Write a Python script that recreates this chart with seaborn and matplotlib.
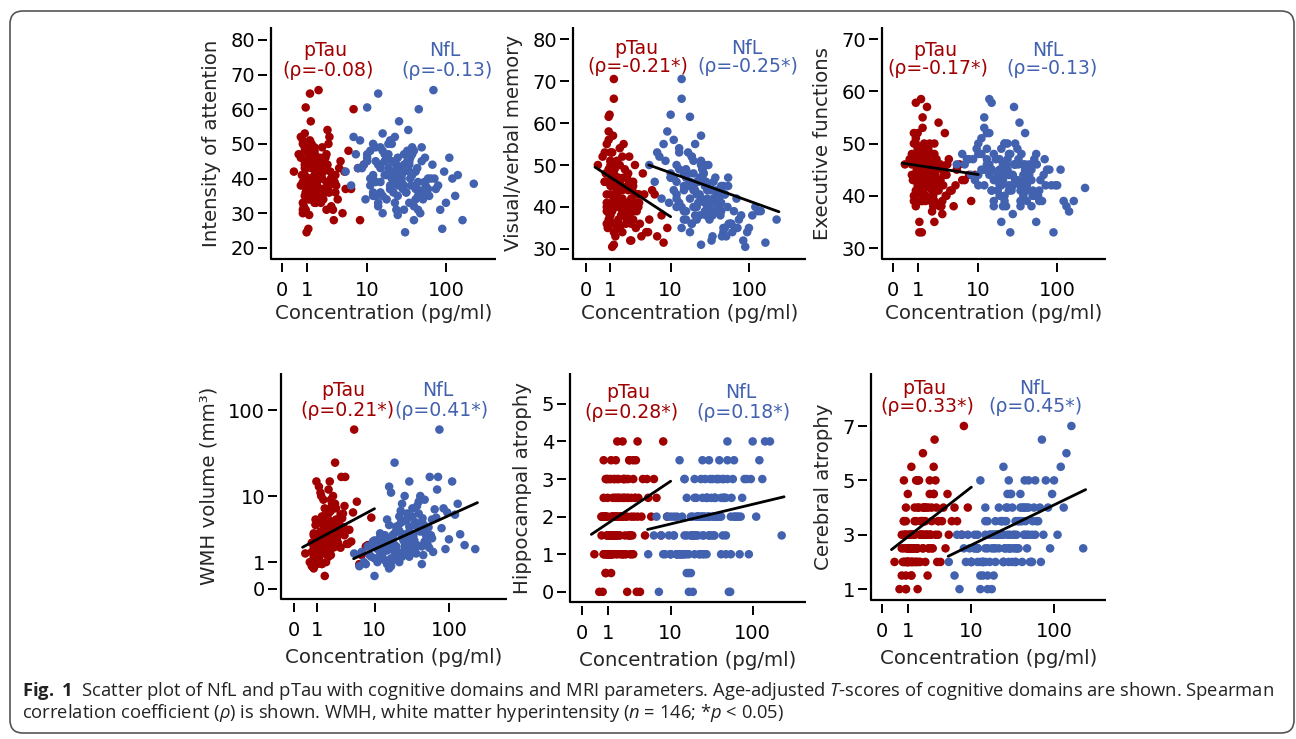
import numpy as np
import matplotlib
matplotlib.use("Agg")
import matplotlib.pyplot as plt
import seaborn as sns
from matplotlib.patches import FancyBboxPatch

W, H = 1296, 739

# concentrations per patient (pg/ml), n = 146
ptau = [0.4, 0.7, 0.8, 0.9, 1.0, 0.6, 1.1, 0.8, 0.9, 1.2,
        1.0, 0.7, 1.3, 0.9, 1.1, 0.8, 1.0, 1.4, 0.9, 1.2,
        0.75, 1.1, 1.6, 0.85, 1.3, 0.95, 1.8, 1.5, 0.8, 1.2,
        1.6, 0.9, 2.1, 1.0, 0.7, 1.3, 1.15, 0.9, 2.0, 1.0,
        1.2, 0.85, 3.0, 1.1, 0.95, 1.4, 2.4, 0.8, 1.25, 2.3,
        1.0, 1.3, 1.6, 0.9, 2.8, 1.2, 2.2, 1.5, 1.1, 2.5,
        1.4, 1.7, 0.8, 2.0, 3.3, 1.9, 1.0, 2.8, 1.6, 1.2,
        2.3, 1.5, 1.1, 3.2, 1.4, 1.8, 0.9, 2.1, 1.3, 2.6,
        1.7, 1.2, 2.4, 1.0, 1.5, 3.5, 1.9, 1.3, 2.0, 1.6,
        1.1, 2.7, 1.4, 4.0, 1.8, 1.2, 2.2, 0.95, 1.5, 6.0,
        1.3, 2.0, 1.6, 2.5, 1.2, 3.0, 1.8, 2.2, 1.5, 3.5,
        2.8, 1.4, 4.5, 2.0, 1.7, 2.4, 3.8, 1.9, 2.6, 1.1,
        3.2, 2.1, 5.5, 1.6, 2.9, 5.0, 4.2, 1.8, 3.0, 7.5,
        2.5, 1.3, 3.6, 2.0, 2.7, 9.0, 1.5, 2.2, 4.8, 3.4,
        1.9, 2.6, 6.5, 2.1, 3.1, 8.0]

nfl = [5.0, 6.0, 8, 10, 12, 7, 11, 14, 9, 13,
       15, 6.5, 12, 18, 10, 16, 8.5, 20, 11, 14,
       17, 9.5, 13, 22, 12, 15, 19, 10, 24, 14,
       11, 16, 21, 13, 18, 7.5, 25, 15, 12, 20,
       17, 14, 28, 16, 10, 22, 19, 13, 26, 15,
       12, 18, 25, 15, 30, 20, 22, 35, 17, 28,
       24, 32, 19, 26, 40, 21, 29, 23, 36, 18,
       27, 33, 20, 45, 25, 30, 16, 38, 22, 34,
       28, 42, 24, 31, 19, 50, 26, 35, 23, 29,
       37, 21, 48, 27, 70, 25, 55, 30, 20, 44,
       25, 35, 45, 30, 60, 40, 28, 55, 50, 38,
       32, 33, 48, 42, 80, 36, 52, 65, 30, 90,
       45, 58, 40, 100, 35, 75, 50, 62, 120, 44,
       85, 38, 56, 140, 48, 68, 220, 42, 95, 54,
       110, 60, 46, 130, 72, 160]

# outcomes per patient
attention = [42, 38, 51, 45, 36, 47, 40, 33, 44, 49,
             39, 52, 35, 41, 46, 30, 43, 37, 48, 64.5,
             41, 34, 45, 39, 50, 36, 42, 47, 31, 44,
             38, 53, 40, 35, 46, 43, 29.5, 49, 41, 37,
             45, 32, 40, 48, 60.5, 36, 43, 39, 56.5, 44,
             40, 46, 35, 43, 38, 51, 42, 33, 47, 39,
             44, 36, 50, 41, 28, 45, 37, 52, 40, 34,
             43, 48, 38, 31, 46, 42, 35, 49, 39, 54,
             41, 37, 44, 24.5, 47, 36, 40, 45, 33, 42,
             38, 50, 35, 43, 65.5, 39, 46, 31, 41, 37,
             38, 44, 35, 47, 40, 32, 43, 37, 49, 41,
             36, 45, 30, 42, 38, 46, 34, 40, 44, 25.5,
             39, 36, 48, 33, 42, 37, 45, 35, 40, 43,
             31, 47, 38, 41, 36, 44, 38.5, 34, 42, 39,
             46, 37, 60, 35, 40, 28]

memory = [50, 46, 55, 48, 43, 52, 47, 40, 58, 49,
          45, 53, 42, 61.5, 47, 39, 51, 44, 56, 70.5,
          48, 41, 54, 46, 50, 37, 52, 47, 43, 65.8,
          44, 49, 38, 53, 46, 42, 57, 48, 40, 51,
          45, 35, 50, 47, 62, 43, 52, 41, 49, 44,
          46, 42, 50, 39, 45, 48, 37, 44, 53, 41,
          47, 40, 36, 49, 43, 55, 38, 46, 42, 34,
          48, 41, 45, 39, 51, 44, 37, 47, 40, 32,
          45, 42, 38, 50, 36, 43, 47, 33, 41, 46,
          39, 44, 35, 48, 42, 31, 45, 38, 40, 43,
          42, 38, 45, 40, 36, 43, 39, 47, 35, 41,
          37, 44, 34, 40, 38, 46, 33, 39, 42, 30.5,
          41, 36, 44, 35, 39, 37, 43, 34, 40, 38,
          32, 42, 36, 39, 45, 35, 37, 41, 34, 40,
          38, 36, 33, 39, 35, 31.5]

executive = [46, 48, 44, 50, 42, 47, 45, 52, 43, 49,
             41, 46, 55, 44, 48, 39, 47, 45, 51, 58.5,
             43, 49, 46, 40, 53, 45, 47, 42, 50, 44,
             48, 38, 46, 52, 44, 47, 41, 57.8, 45, 49,
             43, 46, 36.5, 48, 44, 50, 42, 47, 33, 45,
             45, 43, 48, 41, 46, 44, 50, 39, 47, 42,
             45, 49, 40, 44, 52, 43, 46, 38, 48, 41,
             44, 47, 35, 45, 42, 50, 43, 46, 39, 54,
             44, 41, 47, 43, 45, 40, 48, 42, 46, 57,
             43, 38, 45, 41, 47, 44, 35, 46, 42, 43,
             44, 41, 46, 43, 39, 45, 42, 48, 40, 44,
             43, 46, 38, 42, 45, 41, 47, 39, 43, 33,
             44, 40, 46, 42, 38, 45, 41, 43, 39, 44,
             42, 40, 46, 37, 43, 44, 41.5, 39, 42, 40,
             45, 41, 43, 38, 42, 39]

wmh = [1.5, 0.8, 2.0, 1.2, 2.5, 1.0, 1.8, 3.0, 1.3, 2.2,
       0.9, 1.6, 2.8, 1.1, 2.0, 0.7, 1.4, 3.5, 1.2, 1.9,
       0.8, 2.4, 1.5, 1.0, 3.2, 1.7, 2.1, 0.4, 1.3, 2.6,
       1.0, 1.8, 4.0, 1.2, 2.3, 0.9, 1.6, 5.0, 1.4, 2.0,
       11, 1.1, 1.9, 13, 2.5, 1.5, 25, 1.7, 10, 2.2,
       2.0, 3.0, 1.5, 2.5, 4.0, 1.8, 3.5, 2.2, 1.2, 5.0,
       2.8, 1.6, 3.2, 2.0, 6.0, 1.4, 2.6, 4.5, 1.9, 3.0,
       2.3, 7.0, 1.7, 3.8, 2.5, 1.3, 4.2, 2.1, 5.5, 2.9,
       1.8, 3.4, 8.0, 2.4, 1.6, 3.0, 4.8, 2.0, 6.5, 2.7,
       1.5, 3.6, 9.0, 2.2, 12, 3.1, 1.9, 15, 4.0, 0.9,
       3.0, 2.5, 4.5, 2.0, 5.0, 3.5, 6.0, 2.8, 4.0, 7.5,
       3.2, 5.5, 2.4, 9.0, 3.8, 4.6, 2.2, 6.8, 3.4, 1.8,
       5.2, 3.0, 8.5, 2.6, 4.2, 60, 3.6, 1.6, 5.8, 2.0,
       7.0, 4.4, 17, 3.1, 2.3, 5.3, 1.8, 10, 6.2, 3.9,
       15, 2.7, 1.4, 8.0, 17, 2.1]

hippocampal = [1, 1.5, 1, 2, 1, 0, 1.5, 1, 2, 1,
               1.5, 2, 1, 0.5, 1, 2.5, 1, 1.5, 2, 1,
               0, 1.5, 1, 2, 1, 3, 1.5, 1, 2, 1,
               1.5, 1, 2.5, 1, 2, 1.5, 1, 3, 1, 1.5,
               0.5, 2, 1, 1.5, 1, 2, 0, 3.5, 1.5, 1,
               2, 1.5, 2.5, 1, 2, 3, 1.5, 2, 1, 2.5,
               3, 1.5, 2, 1, 3.5, 2, 2.5, 1, 2, 1.5,
               3, 2, 1, 2.5, 1.5, 2, 0.5, 3, 2, 1.5,
               2.5, 1, 2, 3, 1.5, 4, 2, 2.5, 1, 2,
               3, 1.5, 2.5, 2, 1, 3.5, 2, 1.5, 2.5, 3,
               2, 2.5, 3, 1.5, 2, 3, 2.5, 1, 3.5, 2,
               2.5, 3, 1.5, 2, 3, 2.5, 0, 2, 3.5, 1,
               2.5, 3, 2, 4, 1.5, 2.5, 3, 2, 3.5, 1.5,
               3, 2, 2.5, 4, 1, 2, 1.5, 2.5, 3, 0,
               2, 3.5, 2.5, 3, 2, 4]

cerebral = [2, 1.5, 2.5, 2, 3, 1, 2.5, 2, 3, 1.5,
            2, 3, 2.5, 1, 2, 3.5, 2, 2.5, 3, 1.5,
            2, 2.5, 1, 3, 2, 2.5, 3, 2, 3.5, 2,
            2.5, 1.5, 3, 2, 2.5, 3, 2, 4, 2.5, 2,
            3, 2, 4.5, 2.5, 2, 3, 1.5, 5, 2.5, 3,
            2.5, 3, 2, 3.5, 2.5, 3, 4, 2, 3, 2.5,
            3.5, 2, 3, 2.5, 4, 3, 2, 3.5, 2.5, 3,
            4, 2.5, 3, 5, 2, 3, 1, 3.5, 2.5, 3,
            4, 2, 3, 4.5, 2.5, 3, 3.5, 2, 3, 5,
            2.5, 3, 4, 3.5, 2, 5.5, 3, 2.5, 3.5, 4,
            3, 3.5, 4, 2.5, 3, 4.5, 3, 2, 5, 3.5,
            4, 3, 2.5, 4, 5, 3, 2, 3.5, 4.5, 2.5,
            3, 4, 3.5, 5, 2.5, 3, 4, 3.5, 5.5, 3,
            4, 2.5, 3.5, 6, 3, 4, 2.5, 3.5, 4.5, 2,
            3, 5, 3.5, 4, 6.5, 7]

outcomes = [attention, memory, executive, wmh, hippocampal, cerebral]
y_labels = ["Intensity of attention", "Visual/verbal memory", "Executive functions",
            "WMH volume (mm³)", "Hippocampal atrophy", "Cerebral atrophy"]
y_ticks = [[20, 30, 40, 50, 60, 70, 80], [30, 40, 50, 60, 70, 80], [30, 40, 50, 60, 70],
           [0, 1, 10, 100], [0, 1, 2, 3, 4, 5], [1, 3, 5, 7]]
log_y = [False, False, False, True, False, False]
x_ticks = [0, 1, 10, 100]

ptau_rho = ["-0.08", "-0.21*", "-0.17*", "0.21*", "0.28*", "0.33*"]
nfl_rho = ["-0.13", "-0.25*", "-0.13", "0.41*", "0.18*", "0.45*"]

# regression lines: y = a + b*log10(x+1)
ptau_fit = [None, (50.9, -12.7), (46.5, -2.34), (0.416, 0.464), (1.36, 1.52), (2.18, 2.47)]
nfl_fit = [None, (55.4, -6.97), None, (0.037, 0.392), (1.24, 0.543), (1.03, 1.53)]
ptau_fit_range = [0.29, 10]
nfl_fit_range = [4.9, 235]

# layout in pixels: left, right, top, bottom
boxes = [(271, 496, 27, 259), (573, 806, 27, 259), (882, 1106, 27, 259),
         (281, 507, 373, 599), (570, 806, 373, 602), (871, 1106, 373, 600)]
xlims = [(-0.134, 2.616), (-0.16, 2.706), (-0.134, 2.60),
         (-0.168, 2.755), (-0.14, 2.63), (-0.128, 2.61)]
ylims = [(16.8, 83.7), (27.6, 82.9), (27.9, 72.3),
         (-0.112, 2.419), (-0.27, 5.82), (0.6, 8.95)]
label_pos = [((325, 50), (328, 70), (445, 50), (447, 70)),
             ((636, 49), (638, 67), (747, 49), (748, 67)),
             ((935, 51), (938, 68), (1048, 51), (1052, 68)),
             ((343, 391), (347, 411), (438, 391), (441, 411)),
             ((628, 393), (631, 413), (741, 393), (743, 413)),
             ((924, 388), (927, 407), (1035, 388), (1035, 407))]

RED = "#A00000"
BLUE = "#4262B0"

sns.set_style("ticks")
plt.rcParams['font.family'] = ['DejaVu Sans']
plt.rcParams['mathtext.fontset'] = 'custom'
plt.rcParams['mathtext.rm'] = 'Open Sans'
plt.rcParams['mathtext.it'] = 'Open Sans:italic'
plt.rcParams['mathtext.bf'] = 'Open Sans:bold'


def tlog(v):
    return np.log10(np.asarray(v, dtype=float) + 1)


def fx(px):
    return px / W


def fy(py):
    return 1 - py / H


fig = plt.figure(figsize=(W / 100, H / 100), dpi=100)

tx_ptau = tlog(ptau)
tx_nfl = tlog(nfl)

for i in range(6):
    l, r, t, b = boxes[i]
    ax = fig.add_axes([fx(l), fy(b), (r - l) / W, (b - t) / H])
    ax.set_facecolor('none')

    y = np.asarray(outcomes[i], dtype=float)
    if log_y[i]:
        y = tlog(y)

    sns.scatterplot(x=tx_ptau, y=y, color=RED, s=38, edgecolor='none', linewidth=0, ax=ax)
    sns.scatterplot(x=tx_nfl, y=y, color=BLUE, s=38, edgecolor='none', linewidth=0, ax=ax)

    if ptau_fit[i] is not None:
        a, k = ptau_fit[i]
        xs = tlog(ptau_fit_range)
        ax.plot(xs, a + k * xs, color='black', lw=2)
    if nfl_fit[i] is not None:
        a, k = nfl_fit[i]
        xs = tlog(nfl_fit_range)
        ax.plot(xs, a + k * xs, color='black', lw=2)

    ax.set_xlim(*xlims[i])
    ax.set_ylim(*ylims[i])
    ax.set_xticks(tlog(x_ticks))
    ax.set_xticklabels([str(v) for v in x_ticks])
    yt = y_ticks[i]
    ax.set_yticks(tlog(yt) if log_y[i] else yt)
    ax.set_yticklabels([str(v) for v in yt])

    ax.spines['top'].set_visible(False)
    ax.spines['right'].set_visible(False)
    for side in ['left', 'bottom']:
        ax.spines[side].set_position(('outward', 3))
        ax.spines[side].set_color('none')
    # the L-shaped frame sits slightly inside the detached ticks
    ax.plot([0, 0, 1], [1, 0, 0], transform=ax.transAxes, color='black',
            lw=1.6, clip_on=False, solid_capstyle='butt')

    ax.tick_params(axis='both', length=6.5, width=1.4, color='black',
                   labelsize=14, labelcolor='black')
    ax.tick_params(axis='x', pad=6)
    ax.tick_params(axis='y', pad=2)
    ax.set_xlabel('Concentration (pg/ml)', fontsize=14.2, labelpad=3 if i < 3 else 6)
    ax.set_ylabel(y_labels[i], fontsize=14.2, labelpad=7)
    ax.grid(False)

    (p1, p2, n1, n2) = label_pos[i]
    fig.text(fx(p1[0]), fy(p1[1]), 'pTau', color=RED, fontsize=13.6, ha='center', va='center')
    fig.text(fx(p2[0]), fy(p2[1]), '(ρ=' + ptau_rho[i] + ')', color=RED, fontsize=13.6,
             ha='center', va='center')
    fig.text(fx(n1[0]), fy(n1[1]), 'NfL', color=BLUE, fontsize=13.6, ha='center', va='center')
    fig.text(fx(n2[0]), fy(n2[1]), '(ρ=' + nfl_rho[i] + ')', color=BLUE, fontsize=13.6,
             ha='center', va='center')

# caption
cap1 = (r"$\mathbf{Fig.\ 1}$  Scatter plot of NfL and pTau with cognitive domains and MRI "
        r"parameters. Age-adjusted $T$-scores of cognitive domains are shown. Spearman")
cap2 = (r"correlation coefficient ($\rho$) is shown. WMH, white matter hyperintensity "
        r"($n$ = 146; *$p$ < 0.05)")
t1 = fig.text(fx(22), fy(696), cap1, family='Open Sans', fontsize=11, color='#222222',
              ha='left', va='baseline')
t2 = fig.text(fx(22), fy(718), cap2, family='Open Sans', fontsize=11, color='#222222',
              ha='left', va='baseline')
renderer = fig.canvas.get_renderer()
w1 = t1.get_window_extent(renderer).width
size = 11 * 1254 / w1
t1.set_fontsize(size)
t2.set_fontsize(size)

frame = FancyBboxPatch((0.10, 0.06), 12.84, 7.22,
                       boxstyle="round,pad=0,rounding_size=0.13",
                       transform=fig.dpi_scale_trans, fill=False,
                       edgecolor='#555555', lw=1.2)
fig.add_artist(frame)

fig.savefig("out.png", dpi=100)
